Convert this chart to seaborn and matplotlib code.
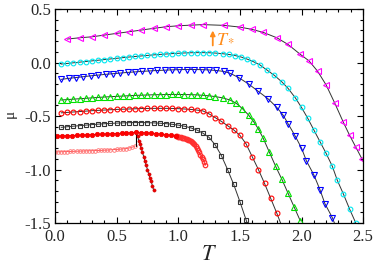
import numpy as np
import matplotlib
matplotlib.use('Agg')
import matplotlib.pyplot as plt
import seaborn as sns

# magenta, left triangles
t_mag = [0.10, 0.20, 0.30, 0.40, 0.50, 0.60, 0.70, 0.80, 0.90, 1.00, 1.10, 1.20,
         1.37, 1.50, 1.60, 1.69, 1.80, 1.89, 1.99, 2.06, 2.13, 2.20, 2.27, 2.34, 2.39, 2.44, 2.49,
         2.53]
mu_mag = [0.220, 0.232, 0.241, 0.257, 0.273, 0.288, 0.304, 0.320, 0.335, 0.344, 0.350, 0.355,
          0.348, 0.332, 0.310, 0.282, 0.232, 0.170, 0.077, 0.017, -0.080, -0.210, -0.380, -0.560,
          -0.680, -0.790, -0.900, -0.990]

# cyan, circles
t_cyan = [0.05, 0.10, 0.15, 0.20, 0.25, 0.30, 0.35, 0.40, 0.45, 0.50, 0.55, 0.60, 0.65,
          0.70, 0.75, 0.80, 0.85, 0.90, 0.95, 1.00, 1.05, 1.10, 1.15, 1.20, 1.25, 1.30,
          1.36, 1.41, 1.46, 1.51, 1.56, 1.61, 1.66, 1.72, 1.78, 1.84, 1.89, 1.95, 2.00,
          2.05, 2.10, 2.15, 2.20, 2.25, 2.29, 2.34, 2.39, 2.44]
mu_cyan = [-0.014, -0.008, -0.002, 0.004, 0.010, 0.016, 0.022, 0.028, 0.034, 0.040, 0.046,
           0.052, 0.057, 0.062, 0.067, 0.072, 0.076, 0.080, 0.084, 0.087, 0.090, 0.092, 0.093,
           0.093, 0.092, 0.089, 0.083, 0.076, 0.066, 0.052, 0.032, 0.008, -0.020, -0.070,
           -0.120, -0.180, -0.240, -0.330, -0.420, -0.520, -0.630, -0.740, -0.850, -0.970,
           -1.100, -1.230, -1.370, -1.500]

# blue, down triangles
t_blue = [0.05, 0.11, 0.17, 0.23, 0.29, 0.35, 0.41, 0.47, 0.53, 0.59, 0.65, 0.71, 0.77,
          0.83, 0.89, 0.95, 1.01, 1.07, 1.13, 1.19, 1.25, 1.31, 1.37, 1.42, 1.49, 1.57,
          1.65, 1.73, 1.80, 1.85, 1.89, 1.95, 2.00, 2.04, 2.10, 2.15, 2.19, 2.25, 2.30]
mu_blue = [-0.157, -0.148, -0.140, -0.132, -0.124, -0.117, -0.110, -0.104, -0.098, -0.092,
           -0.087, -0.082, -0.078, -0.074, -0.071, -0.068, -0.066, -0.065, -0.065, -0.066,
           -0.069, -0.074, -0.083, -0.100, -0.140, -0.200, -0.270, -0.340, -0.420, -0.490,
           -0.570, -0.690, -0.800, -0.920, -1.050, -1.190, -1.320, -1.450, -1.600]

# green, up triangles
t_green = [0.05, 0.10, 0.15, 0.20, 0.25, 0.30, 0.35, 0.40, 0.45, 0.50, 0.55, 0.60, 0.65,
           0.70, 0.75, 0.80, 0.85, 0.90, 0.95, 1.00, 1.05, 1.10, 1.15, 1.20, 1.25, 1.30,
           1.36, 1.42, 1.47, 1.52, 1.57, 1.61, 1.65, 1.69, 1.74, 1.79, 1.84, 1.89, 1.94, 1.99]
mu_green = [-0.350, -0.346, -0.342, -0.338, -0.334, -0.330, -0.326, -0.322, -0.319, -0.316,
            -0.313, -0.310, -0.307, -0.305, -0.303, -0.301, -0.300, -0.299, -0.298, -0.298,
            -0.299, -0.300, -0.302, -0.306, -0.311, -0.318, -0.330, -0.350, -0.380, -0.430,
            -0.490, -0.550, -0.620, -0.710, -0.840, -0.970, -1.090, -1.220, -1.350, -1.480]

# red, open circles
t_red = [0.05, 0.10, 0.15, 0.20, 0.25, 0.30, 0.35, 0.40, 0.45, 0.50, 0.55, 0.60, 0.65,
         0.70, 0.75, 0.80, 0.85, 0.90, 0.95, 1.00, 1.05, 1.10, 1.15, 1.20, 1.25, 1.30,
         1.35, 1.40, 1.45, 1.50, 1.55, 1.60, 1.65, 1.70, 1.75, 1.80, 1.84]
mu_red = [-0.470, -0.466, -0.462, -0.458, -0.454, -0.450, -0.447, -0.444, -0.441, -0.438,
          -0.436, -0.434, -0.432, -0.430, -0.429, -0.428, -0.428, -0.428, -0.429, -0.431,
          -0.434, -0.438, -0.444, -0.452, -0.480, -0.515, -0.550, -0.590, -0.630, -0.680,
          -0.760, -0.880, -1.000, -1.130, -1.270, -1.410, -1.530]

# black, squares
t_blk = [0.05, 0.10, 0.15, 0.20, 0.25, 0.30, 0.35, 0.40, 0.45, 0.50, 0.55, 0.60, 0.65,
         0.70, 0.75, 0.80, 0.85, 0.90, 0.95, 1.00, 1.05, 1.10, 1.15, 1.20, 1.25, 1.30,
         1.35, 1.40, 1.45, 1.50, 1.55, 1.57]
mu_blk = [-0.606, -0.600, -0.595, -0.590, -0.585, -0.580, -0.576, -0.572, -0.569, -0.566,
          -0.564, -0.562, -0.561, -0.561, -0.562, -0.564, -0.567, -0.571, -0.577, -0.585,
          -0.595, -0.610, -0.630, -0.660, -0.700, -0.770, -0.870, -1.000, -1.140, -1.300,
          -1.470, -1.540]

# red filled circles, upper branch
t_rf = [0.02, 0.06, 0.10, 0.14, 0.18, 0.22, 0.26, 0.30, 0.34, 0.38, 0.42, 0.46, 0.50,
        0.54, 0.58, 0.62, 0.66, 0.70, 0.74, 0.78, 0.82, 0.86, 0.90, 0.94, 0.98]
mu_rf = [-0.688, -0.686, -0.684, -0.682, -0.680, -0.678, -0.676, -0.674, -0.672, -0.670,
         -0.668, -0.666, -0.664, -0.662, -0.659, -0.656, -0.652, -0.655, -0.657, -0.660,
         -0.664, -0.669, -0.674, -0.680, -0.688]

# dense open red band after the upper branch
t_band = [0.98, 0.99, 1.00, 1.01, 1.02, 1.03, 1.04, 1.05, 1.06, 1.07, 1.08, 1.09, 1.10,
          1.11, 1.12, 1.13, 1.14, 1.15, 1.16, 1.17, 1.18, 1.19, 1.20, 1.21, 1.22]
mu_band = [-0.688, -0.690, -0.693, -0.696, -0.699, -0.702, -0.706, -0.710, -0.714, -0.718,
           -0.722, -0.727, -0.733, -0.740, -0.750, -0.765, -0.780, -0.800, -0.820, -0.840,
           -0.860, -0.880, -0.900, -0.930, -0.960]

# lower red branch
t_low = [0.000, 0.025, 0.050, 0.075, 0.100, 0.125, 0.150, 0.175, 0.200, 0.225, 0.250,
         0.275, 0.300, 0.325, 0.350, 0.375, 0.400, 0.425, 0.450, 0.475, 0.500, 0.525,
         0.550, 0.575, 0.600, 0.625, 0.650]
mu_low = [-0.836, -0.835, -0.834, -0.833, -0.832, -0.831, -0.830, -0.829, -0.828, -0.827,
          -0.826, -0.825, -0.824, -0.823, -0.822, -0.821, -0.819, -0.818, -0.816, -0.814,
          -0.812, -0.810, -0.807, -0.804, -0.799, -0.792, -0.780]

# jump and falling branch at T ~ 0.66
t_jump = [0.66, 0.66]
mu_jump = [-0.780, -0.652]
t_fall = [0.66, 0.67, 0.68, 0.69, 0.70, 0.71, 0.72, 0.73, 0.74, 0.75, 0.76, 0.77, 0.78,
          0.79, 0.80]
mu_fall = [-0.652, -0.690, -0.730, -0.765, -0.800, -0.840, -0.880, -0.920, -0.960, -1.000,
           -1.040, -1.075, -1.110, -1.150, -1.190]

sns.set_style('ticks')
plt.rcParams['font.family'] = ['Liberation Serif', 'DejaVu Serif']
plt.rcParams['mathtext.fontset'] = 'stix'
plt.rcParams['axes.unicode_minus'] = False

fig, ax = plt.subplots(figsize=(3.74, 2.68), dpi=100)
fig.subplots_adjust(left=0.147, right=0.971, top=0.966, bottom=0.168)

line_c = '#333333'
series = [
    (t_mag, mu_mag, '<', '#ff00ff', 4.0),
    (t_cyan, mu_cyan, 'o', '#00e8f0', 3.4),
    (t_blue, mu_blue, 'v', '#0000ff', 3.7),
    (t_green, mu_green, '^', '#00e000', 3.7),
    (t_red, mu_red, 'o', '#ff0000', 3.5),
    (t_blk, mu_blk, 's', '#333333', 3.1),
]
for t, mu, m, c, ms in series:
    sns.lineplot(x=t, y=mu, ax=ax, estimator=None, sort=False, color=line_c, lw=0.7,
                 marker=m, markersize=ms, markerfacecolor='none', markeredgecolor=c,
                 markeredgewidth=0.8)

sns.lineplot(x=t_low, y=mu_low, ax=ax, estimator=None, sort=False, color='#ff4040', lw=0.6,
             marker='o', markersize=2.6, markerfacecolor='none', markeredgecolor='#ff7070',
             markeredgewidth=0.6)
sns.lineplot(x=t_band, y=mu_band, ax=ax, estimator=None, sort=False, color='#ff2020', lw=0.6,
             marker='o', markersize=3.2, markerfacecolor='none', markeredgecolor='#ff3030',
             markeredgewidth=0.9)
sns.lineplot(x=t_jump, y=mu_jump, ax=ax, estimator=None, sort=False, color='black', lw=0.8)
sns.lineplot(x=t_fall, y=mu_fall, ax=ax, estimator=None, sort=False, color=line_c, lw=0.7,
             marker='o', markersize=2.3, markerfacecolor='#ee0000', markeredgecolor='#cc0000',
             markeredgewidth=0.4)
sns.lineplot(x=t_rf, y=mu_rf, ax=ax, estimator=None, sort=False, color='#ff0000', lw=0.7,
             marker='o', markersize=3.2, markerfacecolor='#ff0000', markeredgecolor='#ee0000',
             markeredgewidth=0.5)

# T_* marker
ax.annotate('', xy=(1.28, 0.30), xytext=(1.28, 0.16),
            arrowprops=dict(arrowstyle='-|>', color='#ff8c1a', lw=1.3,
                            mutation_scale=7, shrinkA=0, shrinkB=0))
ax.text(1.305, 0.225, r'$T_*$', color='#ff8c1a', fontsize=13, va='center', ha='left')

ax.set_xlim(0, 2.5)
ax.set_ylim(-1.5, 0.5)
ax.set_xticks([0.0, 0.5, 1.0, 1.5, 2.0, 2.5])
ax.set_yticks([0.5, 0.0, -0.5, -1.0, -1.5])
ax.set_xticks(np.arange(0, 2.51, 0.1), minor=True)
ax.set_yticks(np.arange(-1.5, 0.51, 0.1), minor=True)
ax.xaxis.set_major_formatter(matplotlib.ticker.FormatStrFormatter('%.1f'))
ax.yaxis.set_major_formatter(matplotlib.ticker.FormatStrFormatter('%.1f'))
ax.tick_params(which='both', direction='in', top=True, right=True, width=0.8,
               labelsize=12, color='black')
ax.tick_params(which='major', length=4.5, pad=4)
ax.tick_params(axis='y', which='major', pad=3)
ax.tick_params(which='minor', length=2.5)
for s in ax.spines.values():
    s.set_linewidth(0.9)
    s.set_color('black')

ax.set_xlabel(r'$T$', fontsize=16, labelpad=1)
ax.set_ylabel('μ', fontsize=11)
ax.yaxis.set_label_coords(-0.125, 0.51)

fig.savefig('out.png', dpi=100)
